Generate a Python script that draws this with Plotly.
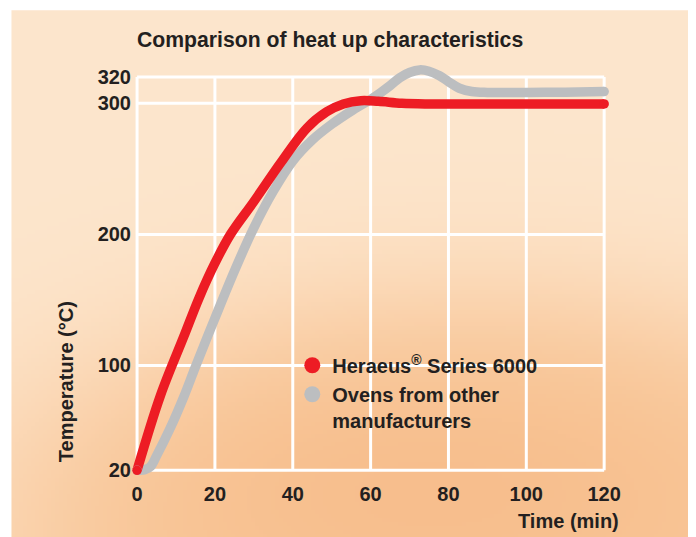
import base64
import struct
import zlib

import numpy as np
import plotly.graph_objects as go

# ---- data ----
heraeus_t = [0, 6, 12, 16, 20, 24, 30, 37, 43.6, 48.7, 53, 57.5, 62, 68, 75, 120]
heraeus_v = [20, 77, 122, 152, 178, 200, 225, 255, 281, 293.5, 299.5, 302, 301.5, 300, 299.5, 299.5]

others_t = [0, 2, 3.5, 5, 8.5, 12, 15, 20, 25, 30, 35, 40, 45, 50, 55.5, 60,
            62.5, 65, 67.5, 70, 72.6, 75, 77.7, 80, 82.8, 86, 90, 100, 110, 120]
others_v = [20, 20.5, 23, 31, 52, 76, 99, 136, 172, 205, 233, 256, 272, 284, 295, 303,
            308, 313.5, 319.5, 323.5, 325.5, 324.5, 321, 316.5, 311.5, 309, 308.3, 308.3, 308.5, 309]

x_ticks = [0, 20, 40, 60, 80, 100, 120]
y_ticks = [20, 100, 200, 300, 320]

series_names = ["Heraeus<sup>®</sup> Series 6000", "Ovens from other<br>manufacturers"]
series_colors = ["#ED1C24", "#BCBEC0"]

TXT = "#231F20"
FONT = "Liberation Sans, Arial, sans-serif"

# ---- geometry (page is offset by the 8px body margin) ----
OFF = 8
W, H = 696 - OFF, 537 - OFF
L, R, T, B = 131.6 - OFF, 86.1, 63.9 - OFF, 61.6
PW, PH = W - L - R, H - T - B


def xp(px):
    return (px - OFF - L) / PW


def yp(py):
    return (H - B - (py - OFF)) / PH


# ---- soft background gradient as a small PNG ----
def make_png(arr):
    h, w, _ = arr.shape
    raw = b"".join(b"\x00" + arr[i].tobytes() for i in range(h))

    def chunk(tag, data):
        c = struct.pack(">I", len(data)) + tag + data
        return c + struct.pack(">I", zlib.crc32(tag + data) & 0xFFFFFFFF)

    return (b"\x89PNG\r\n\x1a\n" + chunk(b"IHDR", struct.pack(">IIBBBBB", w, h, 8, 2, 0, 0, 0))
            + chunk(b"IDAT", zlib.compress(raw, 9)) + chunk(b"IEND", b""))


S = 4
gw, gh = W // S, (H + S - 1) // S
jj, ii = np.meshgrid(np.arange(gw), np.arange(gh))
X = OFF + (jj + 0.5) * S
Y = OFF + (ii + 0.5) * S
d = np.sqrt(((X - 480) / 480) ** 2 + ((Y - 565) / 265) ** 2)
w1 = 1 / (1 + np.exp(-(1 - d) / 0.16))
w2 = np.exp(-(((X - 430) / 300) ** 2 + ((Y - 490) / 120) ** 2)) * 0.55
base = np.array([253, 230, 205], float)
orange = np.array([249, 199, 152], float)
core = np.array([246, 183, 132], float)
col = base * (1 - w1[..., None]) + orange * w1[..., None]
col = col * (1 - w2[..., None]) + core * w2[..., None]
img = np.clip(col, 0, 255).astype(np.uint8)
src = "data:image/png;base64," + base64.b64encode(make_png(img)).decode()

fig = go.Figure()

LW = 9.5
fig.add_trace(go.Scatter(x=others_t, y=others_v, mode="lines",
                         line=dict(color=series_colors[1], width=LW, shape="spline", smoothing=1.0),
                         showlegend=False, hoverinfo="skip"))
fig.add_trace(go.Scatter(x=heraeus_t, y=heraeus_v, mode="lines",
                         line=dict(color=series_colors[0], width=LW, shape="spline", smoothing=1.0),
                         showlegend=False, hoverinfo="skip"))
# round end caps
for t, v, c in [(others_t, others_v, series_colors[1]), (heraeus_t, heraeus_v, series_colors[0])]:
    fig.add_trace(go.Scatter(x=[t[0], t[-1]], y=[v[0], v[-1]], mode="markers",
                             marker=dict(color=c, size=LW, line=dict(width=0)),
                             showlegend=False, hoverinfo="skip", cliponaxis=False))

# legend entries
for name, c in zip(series_names, series_colors):
    fig.add_trace(go.Scatter(x=[None], y=[None], mode="markers", name=name,
                             marker=dict(color=c, size=16, symbol="circle")))

shapes = []
# white page border
for (x0, x1, y0, y1) in [(0, 11, 0, 545), (692, 705, 0, 545), (0, 705, 0, 10)]:
    shapes.append(dict(type="rect", xref="paper", yref="paper", x0=xp(x0), x1=xp(x1), y0=yp(y0), y1=yp(y1),
                       fillcolor="white", line=dict(width=0), layer="below"))
# grid
for xv in x_ticks:
    shapes.append(dict(type="line", xref="x", yref="y", x0=xv, x1=xv, y0=y_ticks[0], y1=y_ticks[-1],
                       line=dict(color="white", width=3), layer="below"))
for yv in y_ticks:
    shapes.append(dict(type="line", xref="x", yref="y", x0=x_ticks[0], x1=x_ticks[-1], y0=yv, y1=yv,
                       line=dict(color="white", width=3), layer="below"))

fig.update_layout(
    width=W, height=H,
    margin=dict(l=L, r=R, t=T, b=B, autoexpand=False),
    paper_bgcolor="white", plot_bgcolor="rgba(0,0,0,0)",
    font=dict(family=FONT, color=TXT, size=20),
    images=[dict(source=src, xref="paper", yref="paper", x=xp(OFF), y=yp(OFF),
                 sizex=gw * S / PW, sizey=gh * S / PH, xanchor="left", yanchor="top",
                 sizing="stretch", layer="below")],
    shapes=shapes,
    xaxis=dict(range=[-1.3, 121.5], tickvals=x_ticks, showgrid=False, zeroline=False, showline=False,
               ticks="", tickfont=dict(size=20, family=FONT, color=TXT, weight="bold"), ticklabelstandoff=5),
    yaxis=dict(range=[16.4, 330], tickvals=y_ticks, showgrid=False, zeroline=False, showline=False,
               ticks="", tickfont=dict(size=20, family=FONT, color=TXT, weight="bold")),
    legend=dict(x=xp(292), y=yp(346), xanchor="left", yanchor="top", bgcolor="rgba(0,0,0,0)",
                font=dict(size=20, family=FONT, color=TXT, weight="bold"), valign="top",
                itemsizing="trace", tracegroupgap=0),
    annotations=[
        dict(text="Comparison of heat up characteristics", xref="paper", yref="paper",
             x=xp(135), y=yp(40), xanchor="left", yanchor="middle", showarrow=False,
             font=dict(size=21.2, family=FONT, color=TXT, weight="bold")),
        dict(text="Temperature (°C)", xref="paper", yref="paper", x=xp(65), y=yp(382),
             xanchor="center", yanchor="middle", textangle=-90, showarrow=False,
             font=dict(size=20, family=FONT, color=TXT, weight="bold")),
        dict(text="Time (min)", xref="paper", yref="paper", x=xp(621), y=yp(521),
             xanchor="right", yanchor="middle", showarrow=False,
             font=dict(size=20, family=FONT, color=TXT, weight="bold")),
    ],
)

fig.write_html("out.html")
